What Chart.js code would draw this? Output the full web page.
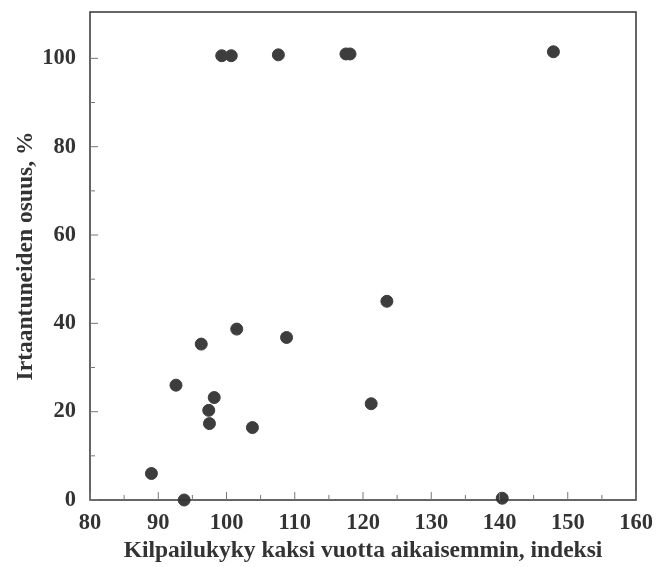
<!DOCTYPE html>
<html>
<head>
<meta charset="utf-8">
<script src="https://cdn.jsdelivr.net/npm/chart.js@4.4.0/dist/chart.umd.min.js"></script>
<style>
  html, body { margin: 0; padding: 0; background: #fff; }
  #wrap { width: 659px; height: 567px; }
</style>
</head>
<body>
<div id="wrap"><canvas id="chart" width="659" height="567"></canvas></div>
<script>
// competitiveness index two years earlier vs. share detached (%)
const xValues = [89, 93.8, 92.6, 96.3, 97.4, 97.5, 98.2, 101.5, 103.8, 108.8, 121.2, 123.5, 140.4,
                 99.3, 100.7, 107.6, 117.5, 118.1, 147.9];
const yValues = [6, 0, 26, 35.3, 20.3, 17.3, 23.2, 38.7, 16.4, 36.8, 21.8, 45, 0.4,
                 100.6, 100.6, 100.8, 101, 101, 101.5];
const xTickLabels = [80, 90, 100, 110, 120, 130, 140, 150, 160];
const yTickLabels = [0, 20, 40, 60, 80, 100];

const points = xValues.map((x, i) => ({ x: x, y: yValues[i] }));
const ink = "#333";
const serif = "'Liberation Serif', 'DejaVu Serif', serif";

// frame + inward tick marks
const framePlugin = {
    id: "frame",
    afterDraw(chart) {
        const { ctx, chartArea: a, scales } = chart;
        ctx.save();
        ctx.strokeStyle = ink;
        ctx.lineWidth = 1.5;
        ctx.strokeRect(a.left, a.top, a.right - a.left, a.bottom - a.top);
        ctx.lineWidth = 1;
        ctx.strokeStyle = "#777";
        ctx.beginPath();
        scales.x.ticks.forEach(t => {
            const px = scales.x.getPixelForValue(t.value);
            const len = t.value % 10 === 0 ? 8 : 5;
            ctx.moveTo(px, a.bottom);
            ctx.lineTo(px, a.bottom - len);
        });
        scales.y.ticks.forEach(t => {
            const py = scales.y.getPixelForValue(t.value);
            const len = t.value % 20 === 0 ? 8 : 5;
            ctx.moveTo(a.left, py);
            ctx.lineTo(a.left + len, py);
        });
        ctx.stroke();
        ctx.restore();
    }
};

new Chart(document.getElementById("chart"), {
    type: "scatter",
    data: {
        datasets: [{
            data: points,
            backgroundColor: "#3d3d3d",
            borderColor: "#3d3d3d",
            pointRadius: 6,
            pointHoverRadius: 6,
            clip: false,
        }],
    },
    options: {
        responsive: false,
        animation: false,
        layout: { padding: { left: 0, right: 23, top: 12, bottom: 0 } },
        plugins: { legend: { display: false }, tooltip: { enabled: false } },
        scales: {
            x: {
                type: "linear",
                min: 80,
                max: 160,
                grid: { display: false },
                border: { display: false },
                ticks: {
                    stepSize: 5,
                    autoSkip: false,
                    maxRotation: 0,
                    padding: 2,
                    color: ink,
                    font: { family: serif, size: 22.5, weight: "bold" },
                    callback: v => xTickLabels.includes(v) ? String(v) : "",
                },
                title: {
                    display: true,
                    text: "Kilpailukyky kaksi vuotta aikaisemmin, indeksi",
                    color: ink,
                    font: { family: serif, size: 23.5, weight: "bold" },
                    padding: { top: 0, bottom: 2 },
                },
                afterFit(scale) { scale.height = 67; },
            },
            y: {
                min: 0,
                max: 110.5,
                grid: { display: false },
                border: { display: false },
                afterBuildTicks(scale) {
                    scale.ticks = scale.ticks.filter(t => t.value <= 100);
                },
                ticks: {
                    stepSize: 10,
                    autoSkip: false,
                    padding: 6,
                    color: ink,
                    font: { family: serif, size: 22.5, weight: "bold" },
                    callback: v => yTickLabels.includes(v) ? String(v) : "",
                },
                title: {
                    display: true,
                    text: "Irtaantuneiden osuus, %",
                    color: ink,
                    font: { family: serif, size: 23.5, weight: "bold" },
                    padding: { top: 12, bottom: 0 },
                },
                afterFit(scale) {
                    scale.width = 90;
                    scale.paddingTop = 0;
                    scale.paddingBottom = 0;
                },
            },
        },
    },
    plugins: [framePlugin],
});
</script>
</body>
</html>
